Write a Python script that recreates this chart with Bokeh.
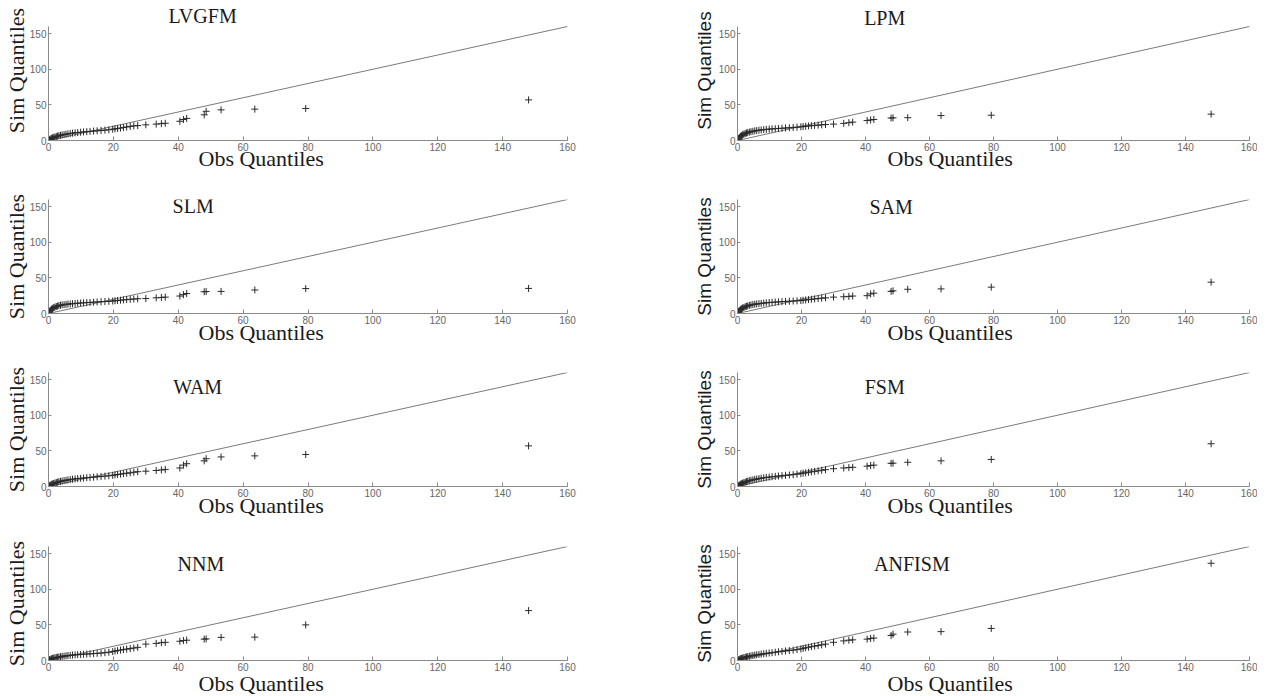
import math
from bokeh.plotting import figure
from bokeh.models import Range1d, FixedTicker, Label, Title
from bokeh.layouts import column, row
from bokeh.embed import file_html
from bokeh.resources import INLINE

# ---------------- data ----------------
obs = [0.1, 0.3, 0.5, 0.8, 1.0, 1.3, 1.6, 2.0, 2.4, 2.8,
       3.2, 3.7, 4.2, 4.8, 5.4, 6.0, 6.7, 7.4, 8.2, 9.0,
       9.9, 10.8, 11.8, 12.8, 13.9, 15.0, 16.2, 17.4, 18.6, 19.8,
       20.5, 21.3, 22.2, 23.1, 24.1, 25.2, 26.3, 27.5, 30.0, 33.2,
       34.8, 36.0, 40.5, 41.6, 42.6, 48.0, 48.6, 53.2, 63.6, 79.3,
       148.0]

sim_lvgfm = [0.3, 1.0, 1.8, 2.6, 3.2, 3.8, 4.4, 5.0, 5.6, 6.2,
             6.8, 7.3, 7.8, 8.3, 8.8, 9.3, 9.8, 10.3, 10.8, 11.2,
             11.6, 12.0, 12.4, 12.8, 13.2, 13.6, 14.1, 14.6, 15.1, 15.8,
             16.3, 16.9, 17.5, 18.2, 19.0, 19.8, 20.5, 21.0, 22.0, 23.0,
             23.6, 24.2, 27.0, 29.5, 31.0, 36.0, 41.0, 43.0, 44.0, 45.0,
             57.0]
sim_lpm = [0.5, 2.0, 3.5, 5.0, 6.0, 7.0, 8.0, 9.0, 9.8, 10.5,
           11.2, 11.8, 12.4, 13.0, 13.5, 14.0, 14.4, 14.8, 15.2, 15.6,
           16.0, 16.3, 16.6, 16.9, 17.2, 17.5, 17.9, 18.3, 18.7, 19.2,
           19.6, 20.0, 20.4, 20.8, 21.2, 21.6, 22.0, 22.4, 23.0, 24.0,
           25.0, 25.8, 28.0, 28.8, 29.5, 31.5, 31.8, 32.0, 35.0, 35.5,
           37.0]
sim_slm = [0.5, 2.2, 3.8, 5.2, 6.3, 7.3, 8.2, 9.0, 9.8, 10.5,
           11.1, 11.6, 12.0, 12.4, 12.8, 13.2, 13.5, 13.8, 14.1, 14.4,
           14.7, 15.0, 15.3, 15.6, 15.9, 16.2, 16.5, 16.8, 17.1, 17.5,
           17.9, 18.3, 18.7, 19.1, 19.5, 19.9, 20.3, 20.7, 21.0, 22.0,
           22.5, 23.0, 24.5, 26.5, 28.0, 30.5, 30.8, 31.0, 33.0, 35.0,
           35.2]
sim_sam = [0.5, 2.0, 3.4, 4.8, 5.8, 6.8, 7.7, 8.6, 9.4, 10.1,
           10.8, 11.4, 12.0, 12.5, 13.0, 13.4, 13.8, 14.2, 14.6, 15.0,
           15.4, 15.7, 16.0, 16.3, 16.6, 16.9, 17.2, 17.5, 17.8, 18.2,
           18.6, 19.0, 19.5, 20.0, 20.5, 21.0, 21.5, 22.0, 23.0, 23.5,
           24.0, 24.5, 25.0, 27.5, 28.5, 31.0, 31.8, 34.0, 34.5, 37.0,
           44.0]
sim_wam = [0.3, 1.0, 1.8, 2.5, 3.1, 3.7, 4.3, 4.9, 5.5, 6.1,
           6.7, 7.2, 7.7, 8.2, 8.7, 9.2, 9.7, 10.2, 10.7, 11.1,
           11.5, 11.9, 12.3, 12.7, 13.1, 13.6, 14.1, 14.6, 15.1, 15.7,
           16.3, 16.8, 17.4, 18.0, 18.6, 19.2, 20.0, 20.8, 21.5, 22.5,
           23.2, 24.0, 26.0, 30.0, 32.0, 36.0, 39.0, 41.5, 43.0, 45.0,
           57.0]
sim_fsm = [0.3, 1.0, 1.8, 2.6, 3.3, 4.0, 4.7, 5.4, 6.1, 6.8,
           7.5, 8.1, 8.7, 9.3, 9.9, 10.5, 11.1, 11.7, 12.2, 12.7,
           13.2, 13.7, 14.2, 14.7, 15.2, 15.7, 16.2, 16.7, 17.3, 18.0,
           18.6, 19.2, 19.9, 20.6, 21.3, 22.0, 22.8, 23.6, 25.0, 26.0,
           26.5, 27.0, 28.5, 29.5, 30.0, 32.5, 32.8, 34.0, 36.0, 38.0,
           60.0]
sim_nnm = [0.2, 0.8, 1.4, 2.0, 2.5, 3.0, 3.4, 3.8, 4.2, 4.6,
           5.0, 5.4, 5.8, 6.2, 6.6, 7.0, 7.3, 7.6, 7.9, 8.2,
           8.5, 8.8, 9.1, 9.4, 9.7, 10.0, 10.5, 11.0, 11.6, 12.5,
           13.2, 13.9, 14.6, 15.3, 16.0, 16.7, 17.5, 18.5, 23.0, 24.0,
           25.0, 25.5, 27.0, 28.0, 28.5, 30.0, 30.3, 32.5, 32.8, 50.0,
           70.0]
sim_anfism = [0.2, 0.8, 1.4, 2.0, 2.5, 3.0, 3.5, 4.0, 4.5, 5.0,
              5.5, 6.0, 6.5, 7.0, 7.5, 8.0, 8.5, 9.0, 9.5, 10.0,
              10.5, 11.0, 11.6, 12.2, 12.8, 13.4, 14.0, 14.6, 15.3, 16.2,
              17.0, 17.8, 18.6, 19.4, 20.2, 21.0, 22.0, 23.0, 25.5, 27.5,
              28.5, 29.0, 30.0, 31.0, 31.5, 35.0, 37.0, 40.0, 40.5, 45.0,
              136.5]

models = ["LVGFM", "LPM", "SLM", "SAM", "WAM", "FSM", "NNM", "ANFISM"]
sims = [sim_lvgfm, sim_lpm, sim_slm, sim_sam, sim_wam, sim_fsm, sim_nnm, sim_anfism]

x_ticks = [0, 20, 40, 60, 80, 100, 120, 140, 160]
y_ticks = [0, 50, 100, 150]
ref_line = [0, 160]
axis_max = 160

x_label_text = "Obs Quantiles"
y_label_text = "Sim Quantiles"

# ---------------- styling / layout ----------------
SERIF = "Liberation Serif"
SANS = "Liberation Sans"
GRAY = "#8a8a8a"
TICK_LABEL = "#666666"

FRAME_H = 114                 # pixel height of 0..160
TOP = [26, 19, 19, 20]        # px from figure top to the 160 line
ROW_H = [180, 173, 173, 170]
FIG_W = [690, 567]
LEFT_BORDER = [47, 43]
FRAME_W = [520, 516]

title_x = [47.5, 46.0, 44.6, 48.0, 46.0, 46.0, 47.0, 54.5]
title_dy = [-11, -9, 6, 7, 14, 14, 17, 17]   # px below the 160 line
xlabel_standoff = [-19, -19, -17, -17, -17, -17, -9, -9]


def make_panel(i):
    r, c = divmod(i, 2)
    w = FIG_W[c]
    h = ROW_H[r]
    fw = FRAME_W[c]
    ypx = axis_max / FRAME_H
    top_border = 0 if r == 0 else TOP[r]
    extra_top = TOP[r] - top_border
    y_end = axis_max + extra_top * ypx
    bottom = h - TOP[r] - FRAME_H
    p = figure(width=w, height=h, output_backend="svg", toolbar_location=None,
               x_range=Range1d(0, axis_max), y_range=Range1d(0, y_end),
               min_border_left=LEFT_BORDER[c], min_border_top=top_border,
               min_border_bottom=bottom,
               min_border_right=w - LEFT_BORDER[c] - fw)
    p.grid.visible = False
    p.outline_line_color = None
    p.background_fill_color = "white"
    p.border_fill_color = "white"

    for ax in (p.xaxis[0], p.yaxis[0]):
        ax.axis_line_color = GRAY
        ax.major_tick_line_color = GRAY
        ax.minor_tick_line_color = None
        ax.major_tick_out = 0
        ax.major_label_text_font = SANS
        ax.major_label_text_font_size = "10px"
        ax.major_label_text_color = TICK_LABEL
        ax.major_label_standoff = 2
    p.xaxis[0].ticker = FixedTicker(ticks=x_ticks)
    p.yaxis[0].ticker = FixedTicker(ticks=y_ticks)
    p.yaxis[0].bounds = (0, axis_max)
    p.xaxis[0].major_tick_in = 4
    p.yaxis[0].major_tick_in = 3

    yax = p.yaxis[0]
    yax.axis_label = y_label_text
    if c == 0:
        yax.axis_label_text_font = SERIF
        yax.axis_label_text_font_size = "22px"
        yax.axis_label_standoff = -2
    else:
        yax.axis_label_text_font = SANS
        yax.axis_label_text_font_size = "19px"
        yax.axis_label_standoff = 1
    yax.axis_label_text_font_style = "normal"
    yax.axis_label_text_color = "#1a1a1a"

    p.add_layout(Title(text=x_label_text, align="left", offset=150,
                       standoff=xlabel_standoff[i],
                       text_font=SERIF, text_font_size="22px",
                       text_font_style="normal", text_color="#1a1a1a"), "below")

    p.line(x=ref_line, y=ref_line, line_color="#7a7a7a", line_width=1)
    p.scatter(x=obs, y=sims[i], marker="cross", size=7, line_color="#2a2a2a",
              line_width=1)

    p.add_layout(Label(x=title_x[i], y=axis_max - title_dy[i] * ypx, text=models[i],
                       text_font=SERIF, text_font_size="20px", text_color="#1a1a1a",
                       text_align="center", text_baseline="middle"))
    return p


panels = [make_panel(i) for i in range(8)]
layout = column([row(panels[2 * r], panels[2 * r + 1]) for r in range(4)])

open("out.html", "w").write(file_html(layout, INLINE))
